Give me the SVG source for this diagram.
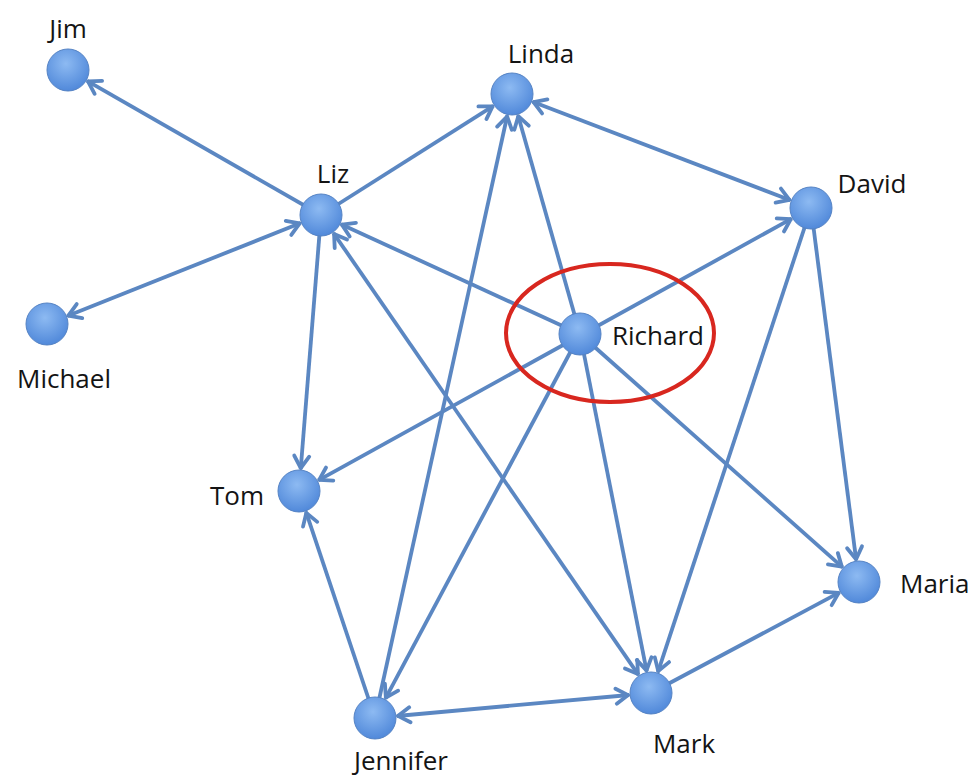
<svg xmlns="http://www.w3.org/2000/svg" width="978" height="780" viewBox="0 0 978 780">
<style>
.edge{stroke:#5b87c2;stroke-width:3.8;fill:none;stroke-linecap:butt}
.uni{marker-end:url(#arr)}
.bi{marker-start:url(#arr);marker-end:url(#arr)}
.node{fill:url(#ng);stroke:#5583c4;stroke-width:1}
.lbl{font-family:"Open Sans","Liberation Sans",sans-serif;font-size:26px;fill:#141414}
</style>
<defs>
<radialGradient id="ng" cx="0.45" cy="0.35" r="0.7">
<stop offset="0" stop-color="#8dbaf2"/>
<stop offset="1" stop-color="#4c85d8"/>
</radialGradient>
<marker id="arr" viewBox="-16 -10 18 20" markerWidth="18" markerHeight="20" refX="0" refY="0" orient="auto-start-reverse" markerUnits="userSpaceOnUse">
<path d="M-13,-7.5 L-1,0 L-13,7.5" fill="none" stroke="#5b87c2" stroke-width="3.8" stroke-linejoin="round" stroke-linecap="round"/>
</marker>
</defs>
<rect width="978" height="780" fill="#ffffff"/>
<g id="connectors">
<line class="edge uni" x1="321" y1="215" x2="87.1" y2="80.9"/>
<line class="edge bi" x1="300.6" y1="223.1" x2="67.4" y2="315.9"/>
<line class="edge uni" x1="321" y1="215" x2="493.4" y2="105.8"/>
<line class="edge uni" x1="321" y1="215" x2="300.7" y2="469.1"/>
<line class="edge bi" x1="333.5" y1="233.1" x2="638.5" y2="674.9"/>
<line class="edge uni" x1="580" y1="334" x2="341.0" y2="224.2"/>
<line class="edge uni" x1="580" y1="334" x2="518.0" y2="115.2"/>
<line class="edge bi" x1="532.6" y1="101.8" x2="790.4" y2="200.2"/>
<line class="edge bi" x1="318.3" y1="480.4" x2="791.7" y2="218.6"/>
<line class="edge uni" x1="375" y1="718" x2="507.3" y2="115.5"/>
<line class="edge uni" x1="375" y1="718" x2="306.0" y2="511.9"/>
<line class="edge uni" x1="580" y1="334" x2="385.4" y2="698.6"/>
<line class="edge uni" x1="580" y1="334" x2="646.7" y2="671.4"/>
<line class="edge uni" x1="580" y1="334" x2="842.6" y2="567.4"/>
<line class="edge uni" x1="811" y1="208" x2="657.9" y2="672.1"/>
<line class="edge uni" x1="811" y1="208" x2="856.2" y2="560.2"/>
<line class="edge bi" x1="396.9" y1="716.0" x2="629.1" y2="695.0"/>
<line class="edge uni" x1="651" y1="693" x2="839.6" y2="592.4"/>
</g>
<ellipse id="highlight" cx="610" cy="333" rx="104" ry="69" fill="none" stroke="#d8271f" stroke-width="4"/>
<g id="jim"><circle class="node" cx="68" cy="70" r="21"/><text class="lbl" x="68" y="38" text-anchor="middle">Jim</text></g>
<g id="linda"><circle class="node" cx="512" cy="94" r="21"/><text class="lbl" x="541" y="63" text-anchor="middle">Linda</text></g>
<g id="liz"><circle class="node" cx="321" cy="215" r="21"/><text class="lbl" x="333" y="183" text-anchor="middle">Liz</text></g>
<g id="david"><circle class="node" cx="811" cy="208" r="21"/><text class="lbl" x="872" y="193" text-anchor="middle">David</text></g>
<g id="michael"><circle class="node" cx="47" cy="324" r="21"/><text class="lbl" x="64" y="388" text-anchor="middle">Michael</text></g>
<g id="richard"><circle class="node" cx="580" cy="334" r="21"/><text class="lbl" x="612" y="345">Richard</text></g>
<g id="tom"><circle class="node" cx="299" cy="491" r="21"/><text class="lbl" x="210" y="505">Tom</text></g>
<g id="maria"><circle class="node" cx="859" cy="582" r="21"/><text class="lbl" x="900" y="593">Maria</text></g>
<g id="mark"><circle class="node" cx="651" cy="693" r="21"/><text class="lbl" x="684" y="753" text-anchor="middle">Mark</text></g>
<g id="jennifer"><circle class="node" cx="375" cy="718" r="21"/><text class="lbl" x="401" y="770" text-anchor="middle">Jennifer</text></g>
</svg>
